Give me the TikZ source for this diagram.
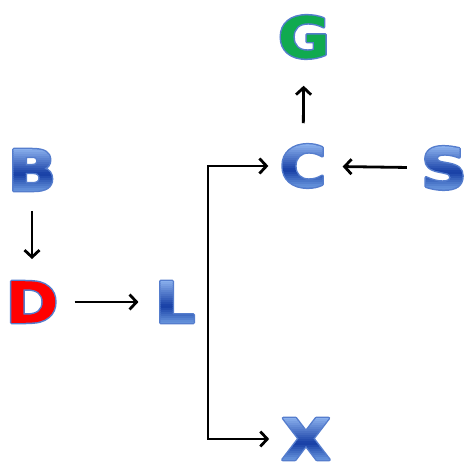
\documentclass[tikz,border=0pt]{standalone}
\usepackage{fontspec}
\newfontfamily\letfont{DejaVu Sans}[BoldFont=* Bold, FakeStretch=1.12]
\usetikzlibrary{arrows.meta}
\definecolor{outl}{RGB}{85,125,205}
% gradient band code (pdf operators, bp units, origin at letter baseline-left)
\def\bluebands{}
\foreach \i in {0,...,24}{%
  \pgfmathsetmacro\yb{44-2*\i}%
  \pgfmathsetmacro\t{max(0,min(1,(41.4-\yb-1)/41.4))}%
  \pgfmathsetmacro\r{\t<0.62 ? 0.549+(0.086-0.549)*\t/0.62 : 0.086+(0.392-0.086)*(\t-0.62)/0.38}%
  \pgfmathsetmacro\g{\t<0.62 ? 0.698+(0.243-0.698)*\t/0.62 : 0.243+(0.569-0.243)*(\t-0.62)/0.38}%
  \pgfmathsetmacro\b{\t<0.62 ? 0.933+(0.647-0.933)*\t/0.62 : 0.647+(0.855-0.647)*(\t-0.62)/0.38}%
  \xdef\bluebands{\bluebands\space\r\space\g\space\b\space rg -8 \yb\space 80 2.3 re f}%
}
\def\redbands{1 0 0 rg -8 -6 80 60 re f}
\def\greenbands{0.063 0.667 0.314 rg -8 -6 80 60 re f}
\newcommand\gradtext[2]{\special{pdf:literal q 6 Tr 3 w 1 j}\rlap{#1}\special{pdf:literal #2}\special{pdf:literal Q}\phantom{#1}}
\tikzset{
  letnode/.style={font=\letfont\bfseries\fontsize{57}{57}\selectfont, inner sep=0pt, anchor=center, text=outl},
  conn/.style={line width=2.8pt, -{Straight Barb[length=7pt,width=15pt]}}
}
\begin{document}
\begin{tikzpicture}[x=1pt,y=-1pt]
\useasboundingbox (0,0) rectangle (465,462);
\node[letnode] (G) at (304,37) {\gradtext{G}{\greenbands}};
\node[letnode] (B) at (32,170) {\gradtext{B}{\bluebands}};
\node[letnode] (D) at (32,302) {\gradtext{D}{\redbands}};
\node[letnode] (L) at (175,302) {\gradtext{L}{\bluebands}};
\node[letnode] (C) at (303,166) {\gradtext{C}{\bluebands}};
\node[letnode] (S) at (444,168) {\gradtext{S}{\bluebands}};
\node[letnode] (X) at (306,439) {\gradtext{X}{\bluebands}};
\coordinate (F) at (208,302);
\draw[conn, shorten <=20pt, shorten >=22pt] (B) -- (D);
\draw[conn, shorten <=16pt, shorten >=16pt] (D) -- (L);
\draw[conn, shorten <=14pt, shorten >=16pt] (S) -- (C);
\draw[conn, shorten <=21pt, shorten >=27pt] (C) -- (G);
\draw[conn, shorten >=11pt] (F) |- (C);
\draw[conn, shorten >=12pt] (F) |- (X);
\end{tikzpicture}
\end{document}
